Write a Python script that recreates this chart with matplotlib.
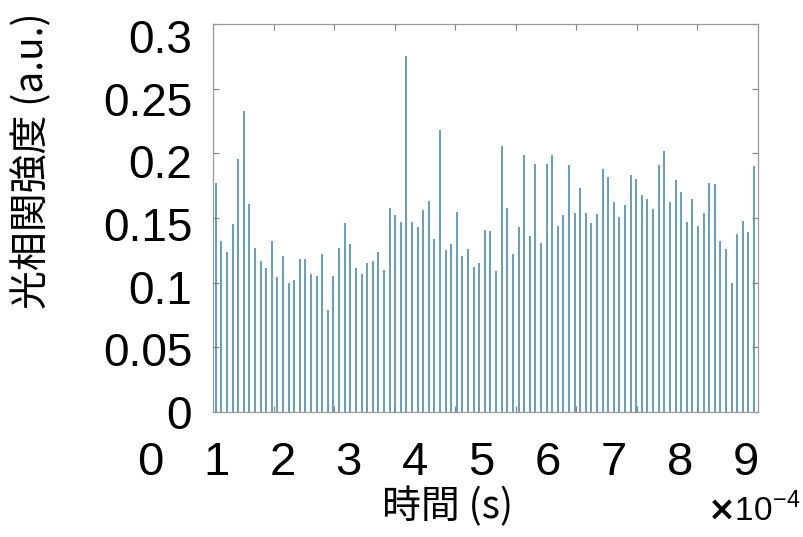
import numpy as np
import matplotlib
matplotlib.use("Agg")
import matplotlib.pyplot as plt

plt.rcParams['font.family'] = ['Liberation Sans', 'Noto Sans CJK JP', 'DejaVu Sans']
plt.rcParams['mathtext.fontset'] = 'custom'
plt.rcParams['mathtext.rm'] = 'Liberation Sans'
plt.rcParams['axes.unicode_minus'] = False

# sample times (s): 97 evenly spaced samples
t_start = 4.5e-6
t_step = 9.26e-6
n_samples = 97
times = t_start + t_step * np.arange(n_samples)

intensity = [
    0.177, 0.132, 0.124, 0.145, 0.196, 0.233, 0.161, 0.127, 0.117, 0.111,
    0.132, 0.104, 0.121, 0.100, 0.102, 0.118, 0.118, 0.107, 0.105, 0.122,
    0.079, 0.105, 0.127, 0.146, 0.130, 0.111, 0.107, 0.115, 0.117, 0.124,
    0.110, 0.158, 0.152, 0.147, 0.275, 0.147, 0.143, 0.156, 0.163, 0.134,
    0.218, 0.125, 0.130, 0.155, 0.121, 0.126, 0.112, 0.115, 0.141, 0.140,
    0.109, 0.206, 0.158, 0.122, 0.143, 0.199, 0.136, 0.192, 0.131, 0.192,
    0.199, 0.144, 0.152, 0.191, 0.154, 0.173, 0.154, 0.146, 0.153, 0.188,
    0.182, 0.162, 0.151, 0.160, 0.183, 0.180, 0.168, 0.165, 0.157, 0.191,
    0.202, 0.162, 0.179, 0.170, 0.147, 0.165, 0.144, 0.154, 0.177, 0.176,
    0.132, 0.126, 0.100, 0.138, 0.148, 0.139, 0.190,
]

y_ticks = [0, 0.05, 0.1, 0.15, 0.2, 0.25, 0.3]
y_tick_labels = ['0', '0.05', '0.1', '0.15', '0.2', '0.25', '0.3']
x_ticks = [i * 1e-4 for i in range(10)]
x_tick_labels = [str(i) for i in range(10)]

fig = plt.figure(figsize=(8.04, 5.37), dpi=100)
W, H = 804, 537
ax = fig.add_axes([213 / W, 1 - 412 / H, 545 / W, 388 / H])

ax.vlines(times, 0, intensity, color='#4a8db5', lw=1.2)
ax.set_xlim(0, 9e-4)
ax.set_ylim(0, 0.3)
ax.set_yticks(y_ticks)
ax.set_yticklabels([])
ax.set_xticks(x_ticks)
ax.set_xticklabels([])
ax.tick_params(direction='in', length=4, width=0.8, color='#808080',
               top=True, right=True)
for s in ax.spines.values():
    s.set_color('#9a9a9a')
    s.set_linewidth(0.9)

# separate y tick-label column (spacing as in the reference)
ylab = fig.add_axes([213 / W, 1 - 412 / H, 545 / W, 376 / H], frameon=False)
ylab.set_ylim(0, 0.3)
ylab.set_yticks(y_ticks)
ylab.set_yticklabels(y_tick_labels, fontsize=33)
ylab.set_xticks([])
ylab.tick_params(axis='y', length=0, pad=15)
ylab.patch.set_visible(False)

# separate x tick-label row (shifted as in the reference)
xlab = fig.add_axes([150 / W, 1 - 412 / H, 596 / W, 388 / H], frameon=False)
xlab.set_xlim(0, 9)
xlab.set_ylim(0, 1)
xlab.set_xticks(range(10))
xlab.set_xticklabels(x_tick_labels, fontsize=34)
xlab.set_yticks([])
xlab.tick_params(axis='x', length=0, pad=21)
xlab.patch.set_visible(False)

fig.text(448 / W, 1 - 507 / H, '時間 (s)', fontsize=28, ha='center', va='center',
         family=['Noto Sans CJK JP', 'Liberation Sans'])
fig.text(800 / W, 1 - 510 / H, r'$\mathbf{\times}$10$^{-4}$', fontsize=24,
         ha='right', va='center')
fig.text(32 / W, 1 - 161 / H, '光相関強度 (a.u.)', fontsize=28, rotation=90,
         ha='center', va='center', family=['Noto Sans CJK JP', 'Liberation Sans'])

fig.savefig('out.png', dpi=100)
